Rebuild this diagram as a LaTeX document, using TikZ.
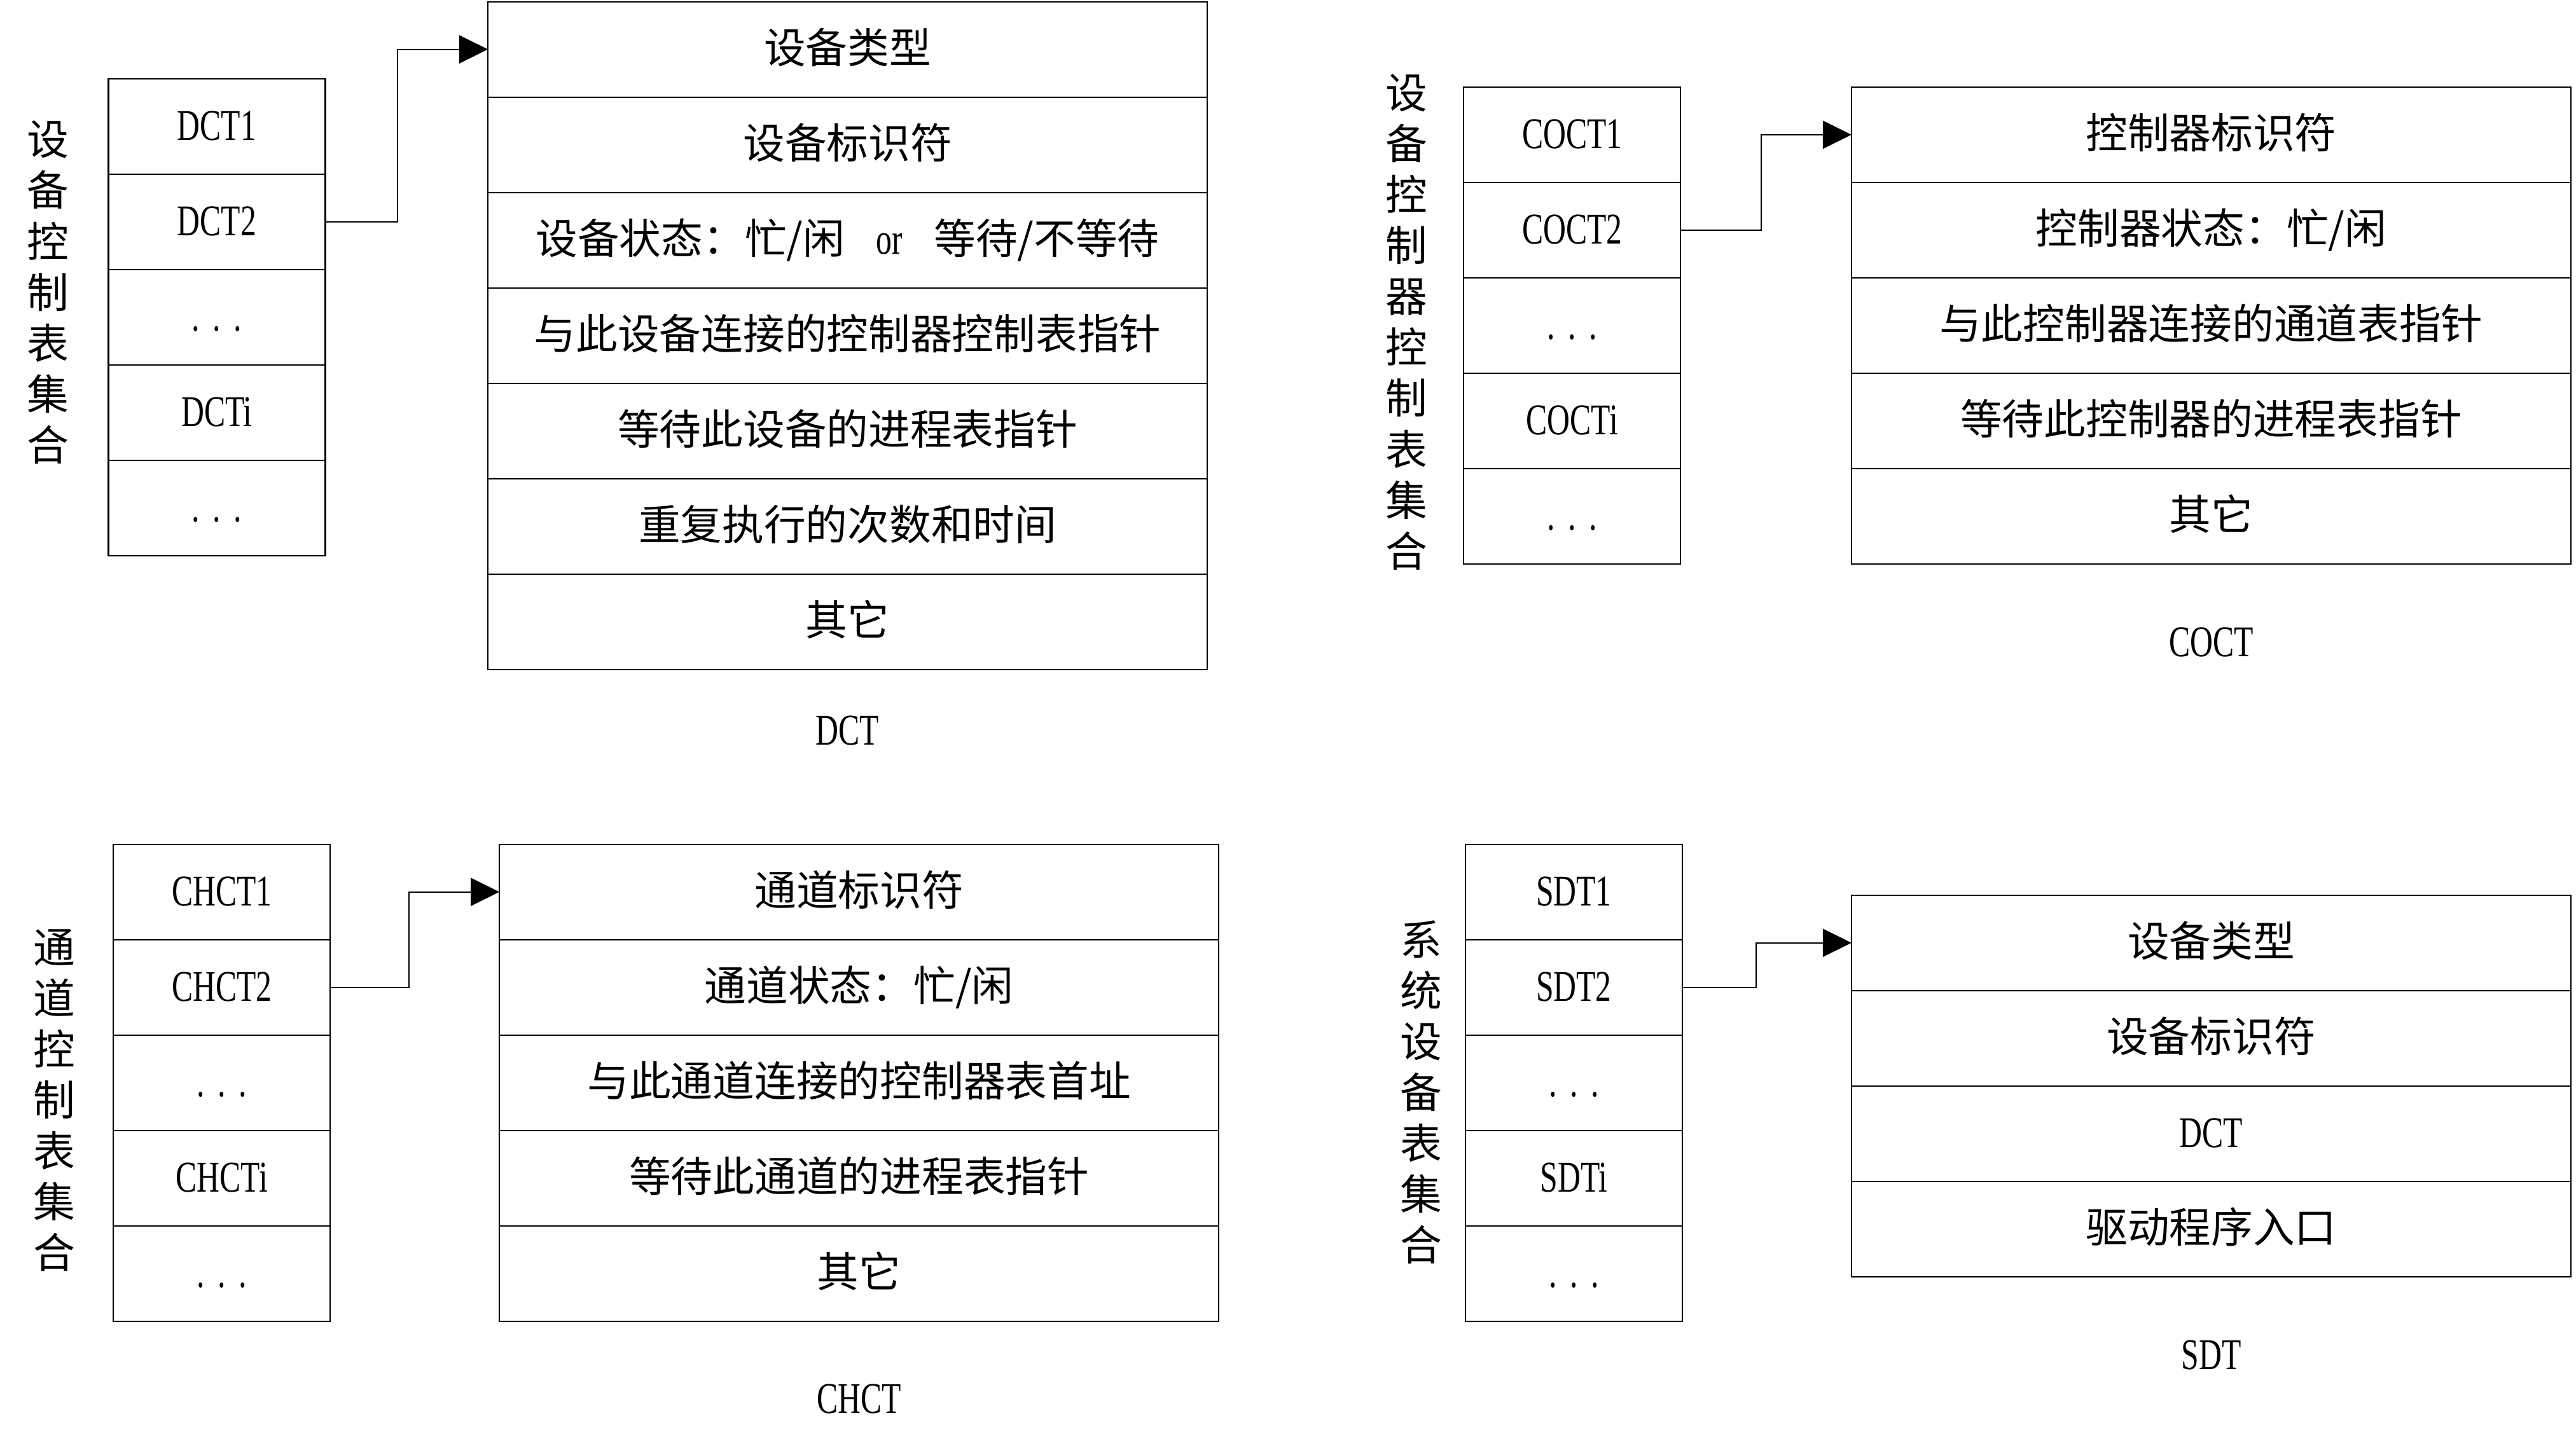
\documentclass[tikz,border=0pt]{standalone}
\usepackage{fontspec}
\setmainfont{Liberation Serif}[FakeStretch=0.72,Scale=1.05]
\newfontfamily\cjk{Noto Sans CJK SC}
\usetikzlibrary{arrows.meta,positioning}
\newcommand\sz{\fontsize{18.7pt}{22.8pt}\selectfont}
\newcommand\ddd{.\hspace{0.3em}.\hspace{0.3em}.}

\begin{document}
\begin{tikzpicture}[x=0.2583mm,y=-0.2583mm,node distance=0pt,line width=0.6pt,>={Triangle[length=4.5mm,width=4.4mm]},
  every node/.style={font=\sz},
  slot/.style={draw,outer sep=0pt,inner sep=0pt,minimum width=34.1mm,minimum height=15mm,text height=14pt,text depth=1.6pt},
  field/.style={slot,minimum width=113.1mm,font=\cjk\sz},
  title/.style={text height=14pt,text depth=1.6pt},
  side/.style={font=\cjk\sz,align=center,inner sep=0pt}]
\useasboundingbox (0,0) rectangle (1568,876);

% DCT
\node[side] (dlab) at (29,178) {设\\备\\控\\制\\表\\集\\合};
\node[slot,anchor=north west] (d1) at (66,48) {DCT1};
\node[slot,below=of d1] (d2) {DCT2};
\node[slot,below=of d2] (d3) {\ddd};
\node[slot,below=of d3] (d4) {DCTi};
\node[slot,below=of d4] (d5) {\ddd};
\node[field,anchor=north west] (df1) at (297,1) {设备类型};
\node[field,below=of df1] (df2) {设备标识符};
\node[field,below=of df2] (df3) {设备状态：忙/闲\hspace{0.75em}{\rmfamily or}\hspace{0.75em}等待/不等待};
\node[field,below=of df3] (df4) {与此设备连接的控制器控制表指针};
\node[field,below=of df4] (df5) {等待此设备的进程表指针};
\node[field,below=of df5] (df6) {重复执行的次数和时间};
\node[field,below=of df6] (df7) {其它};
\node[title] (dname) at ([yshift=-9.7mm]df7.south) {DCT};
\draw[->] (d2.east) -- ++(44,0) |- (df1.west);

% COCT
\node[side] (clab) at (856,196) {设\\备\\控\\制\\器\\控\\制\\表\\集\\合};
\node[slot,anchor=north west] (c1) at (891,53) {COCT1};
\node[slot,below=of c1] (c2) {COCT2};
\node[slot,below=of c2] (c3) {\ddd};
\node[slot,below=of c3] (c4) {COCTi};
\node[slot,below=of c4] (c5) {\ddd};
\node[field,anchor=north west] (cf1) at (1127,53) {控制器标识符};
\node[field,below=of cf1] (cf2) {控制器状态：忙/闲};
\node[field,below=of cf2] (cf3) {与此控制器连接的通道表指针};
\node[field,below=of cf3] (cf4) {等待此控制器的进程表指针};
\node[field,below=of cf4] (cf5) {其它};
\node[title] (cname) at ([yshift=-12.4mm]cf5.south) {COCT};
\draw[->] (c2.east) -- ++(49,0) |- (cf1.west);

% CHCT
\node[side] (hlab) at (33,670) {通\\道\\控\\制\\表\\集\\合};
\node[slot,anchor=north west] (h1) at (69,514) {CHCT1};
\node[slot,below=of h1] (h2) {CHCT2};
\node[slot,below=of h2] (h3) {\ddd};
\node[slot,below=of h3] (h4) {CHCTi};
\node[slot,below=of h4] (h5) {\ddd};
\node[field,anchor=north west] (hf1) at (304,514) {通道标识符};
\node[field,below=of hf1] (hf2) {通道状态：忙/闲};
\node[field,below=of hf2] (hf3) {与此通道连接的控制器表首址};
\node[field,below=of hf3] (hf4) {等待此通道的进程表指针};
\node[field,below=of hf4] (hf5) {其它};
\node[title] (hname) at ([yshift=-12.3mm]hf5.south) {CHCT};
\draw[->] (h2.east) -- ++(48,0) |- (hf1.west);

% SDT
\node[side] (slab) at (865,665) {系\\统\\设\\备\\表\\集\\合};
\node[slot,anchor=north west] (s1) at (892,514) {SDT1};
\node[slot,below=of s1] (s2) {SDT2};
\node[slot,below=of s2] (s3) {\ddd};
\node[slot,below=of s3] (s4) {SDTi};
\node[slot,below=of s4] (s5) {\ddd};
\node[field,anchor=north west] (sf1) at (1127,545) {设备类型};
\node[field,below=of sf1] (sf2) {设备标识符};
\node[field,below=of sf2] (sf3) {\rmfamily DCT};
\node[field,below=of sf3] (sf4) {驱动程序入口};
\node[title] (sname) at ([yshift=-12.4mm]sf4.south) {SDT};
\draw[->] (s2.east) -- ++(45,0) |- (sf1.west);
\end{tikzpicture}
\end{document}
